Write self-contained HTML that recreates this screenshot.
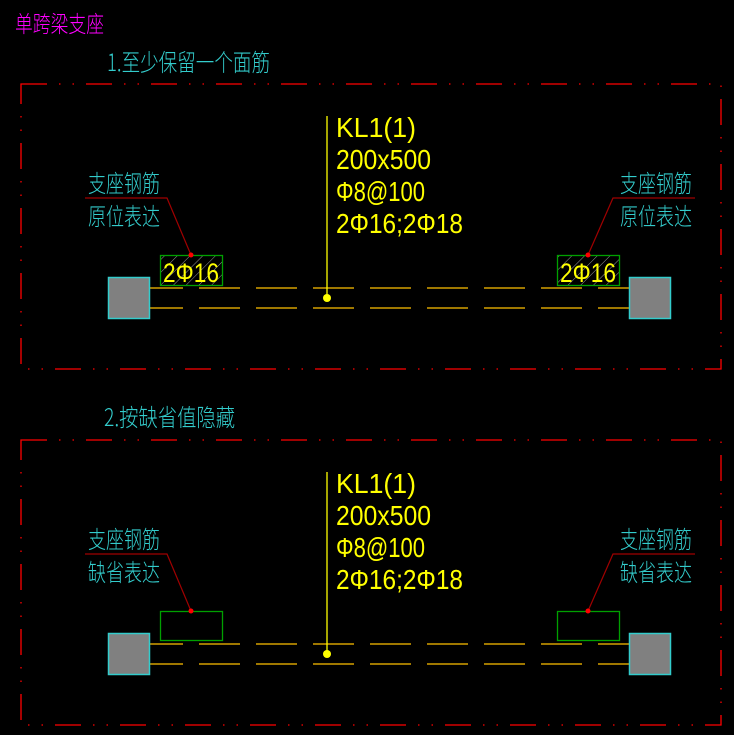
<!DOCTYPE html>
<html><head><meta charset="utf-8"><style>
html,body{margin:0;padding:0;background:#000;}
svg{display:block}
text{font-family:"Liberation Sans Narrow","Liberation Sans","Noto Sans CJK SC",sans-serif;}
.cj{font-family:"Noto Sans CJK SC","WenQuanYi Zen Hei",sans-serif;font-weight:300}
</style></head><body>
<svg width="734" height="735" viewBox="0 0 734 735" xmlns="http://www.w3.org/2000/svg">
<defs>
<pattern id="h" width="9" height="9" patternUnits="userSpaceOnUse" patternTransform="rotate(45)">
<line x1="0" y1="0" x2="0" y2="9" stroke="#9a9a9a" stroke-width="1"/>
</pattern>
<g id="sec">
  <rect x="21" y="84" width="700" height="285" fill="none" stroke="#ff0000" stroke-width="1.3" stroke-dasharray="26 12 1.5 12 1.5 12"/>
  <g stroke="#d4a000" stroke-width="1.5">
    <line x1="150" y1="288" x2="183" y2="288"/><line x1="150" y1="308" x2="183" y2="308"/>
    <line x1="199" y1="288" x2="629" y2="288" stroke-dasharray="41 16"/>
    <line x1="199" y1="308" x2="629" y2="308" stroke-dasharray="41 16"/>
  </g>
  <rect x="108.5" y="277.5" width="41" height="41" fill="#808080" stroke="#33cccc" stroke-width="1.5"/>
  <rect x="629.5" y="277.5" width="41" height="41" fill="#808080" stroke="#33cccc" stroke-width="1.5"/>
  <line x1="327" y1="116" x2="327" y2="298" stroke="#ffff00" stroke-width="1.3"/>
  <circle cx="327" cy="298" r="4" fill="#ffff00"/>
  <g fill="#ffff00" font-size="28">
    <text x="336" y="137" textLength="80" lengthAdjust="spacingAndGlyphs">KL1(1)</text>
    <text x="336" y="169" textLength="95" lengthAdjust="spacingAndGlyphs">200x500</text>
    <text x="336" y="201" textLength="89" lengthAdjust="spacingAndGlyphs">Φ8@100</text>
    <text x="336" y="233" textLength="127" lengthAdjust="spacingAndGlyphs">2Φ16;2Φ18</text>
  </g>
  <g stroke="#a00000" stroke-width="1.2" fill="none">
    <polyline points="85,198 167,198 191,255"/>
    <polyline points="695,198 613,198 588,255"/>
  </g>
</g>
</defs>

<text class="cj" x="15" y="32" font-size="23" fill="#ff00ff" textLength="89" lengthAdjust="spacingAndGlyphs">单跨梁支座</text>
<text class="cj" x="107" y="71" font-size="24" fill="#33cccc" textLength="163" lengthAdjust="spacingAndGlyphs">1.至少保留一个面筋</text>
<text class="cj" x="104" y="426" font-size="24" fill="#33cccc" textLength="131" lengthAdjust="spacingAndGlyphs">2.按缺省值隐藏</text>

<use href="#sec"/>
<use href="#sec" transform="translate(0,356)"/>

<rect x="160.5" y="255.5" width="62" height="30" fill="url(#h)" stroke="#00a000" stroke-width="1.3"/>
<rect x="557.5" y="255.5" width="62" height="30" fill="url(#h)" stroke="#00a000" stroke-width="1.3"/>
<text x="163" y="282" font-size="27" fill="#ffff00" textLength="56" lengthAdjust="spacingAndGlyphs">2Φ16</text>
<text x="560" y="282" font-size="27" fill="#ffff00" textLength="56" lengthAdjust="spacingAndGlyphs">2Φ16</text>
<circle cx="191" cy="255" r="2.5" fill="#ff0000"/>
<circle cx="588" cy="255" r="2.5" fill="#ff0000"/>
<g class="cj" font-size="24" fill="#33cccc">
<text x="88" y="192" textLength="72" lengthAdjust="spacingAndGlyphs">支座钢筋</text>
<text x="88" y="225" textLength="72" lengthAdjust="spacingAndGlyphs">原位表达</text>
<text x="620" y="192" textLength="72" lengthAdjust="spacingAndGlyphs">支座钢筋</text>
<text x="620" y="225" textLength="72" lengthAdjust="spacingAndGlyphs">原位表达</text>
<text x="88" y="548" textLength="72" lengthAdjust="spacingAndGlyphs">支座钢筋</text>
<text x="88" y="581" textLength="72" lengthAdjust="spacingAndGlyphs">缺省表达</text>
<text x="620" y="548" textLength="72" lengthAdjust="spacingAndGlyphs">支座钢筋</text>
<text x="620" y="581" textLength="72" lengthAdjust="spacingAndGlyphs">缺省表达</text>
</g>
<rect x="160.5" y="611.5" width="62" height="29" fill="none" stroke="#00a000" stroke-width="1.3"/>
<rect x="557.5" y="611.5" width="62" height="29" fill="none" stroke="#00a000" stroke-width="1.3"/>
<circle cx="191" cy="611" r="2.5" fill="#ff0000"/>
<circle cx="588" cy="611" r="2.5" fill="#ff0000"/>
</svg>
</body></html>
